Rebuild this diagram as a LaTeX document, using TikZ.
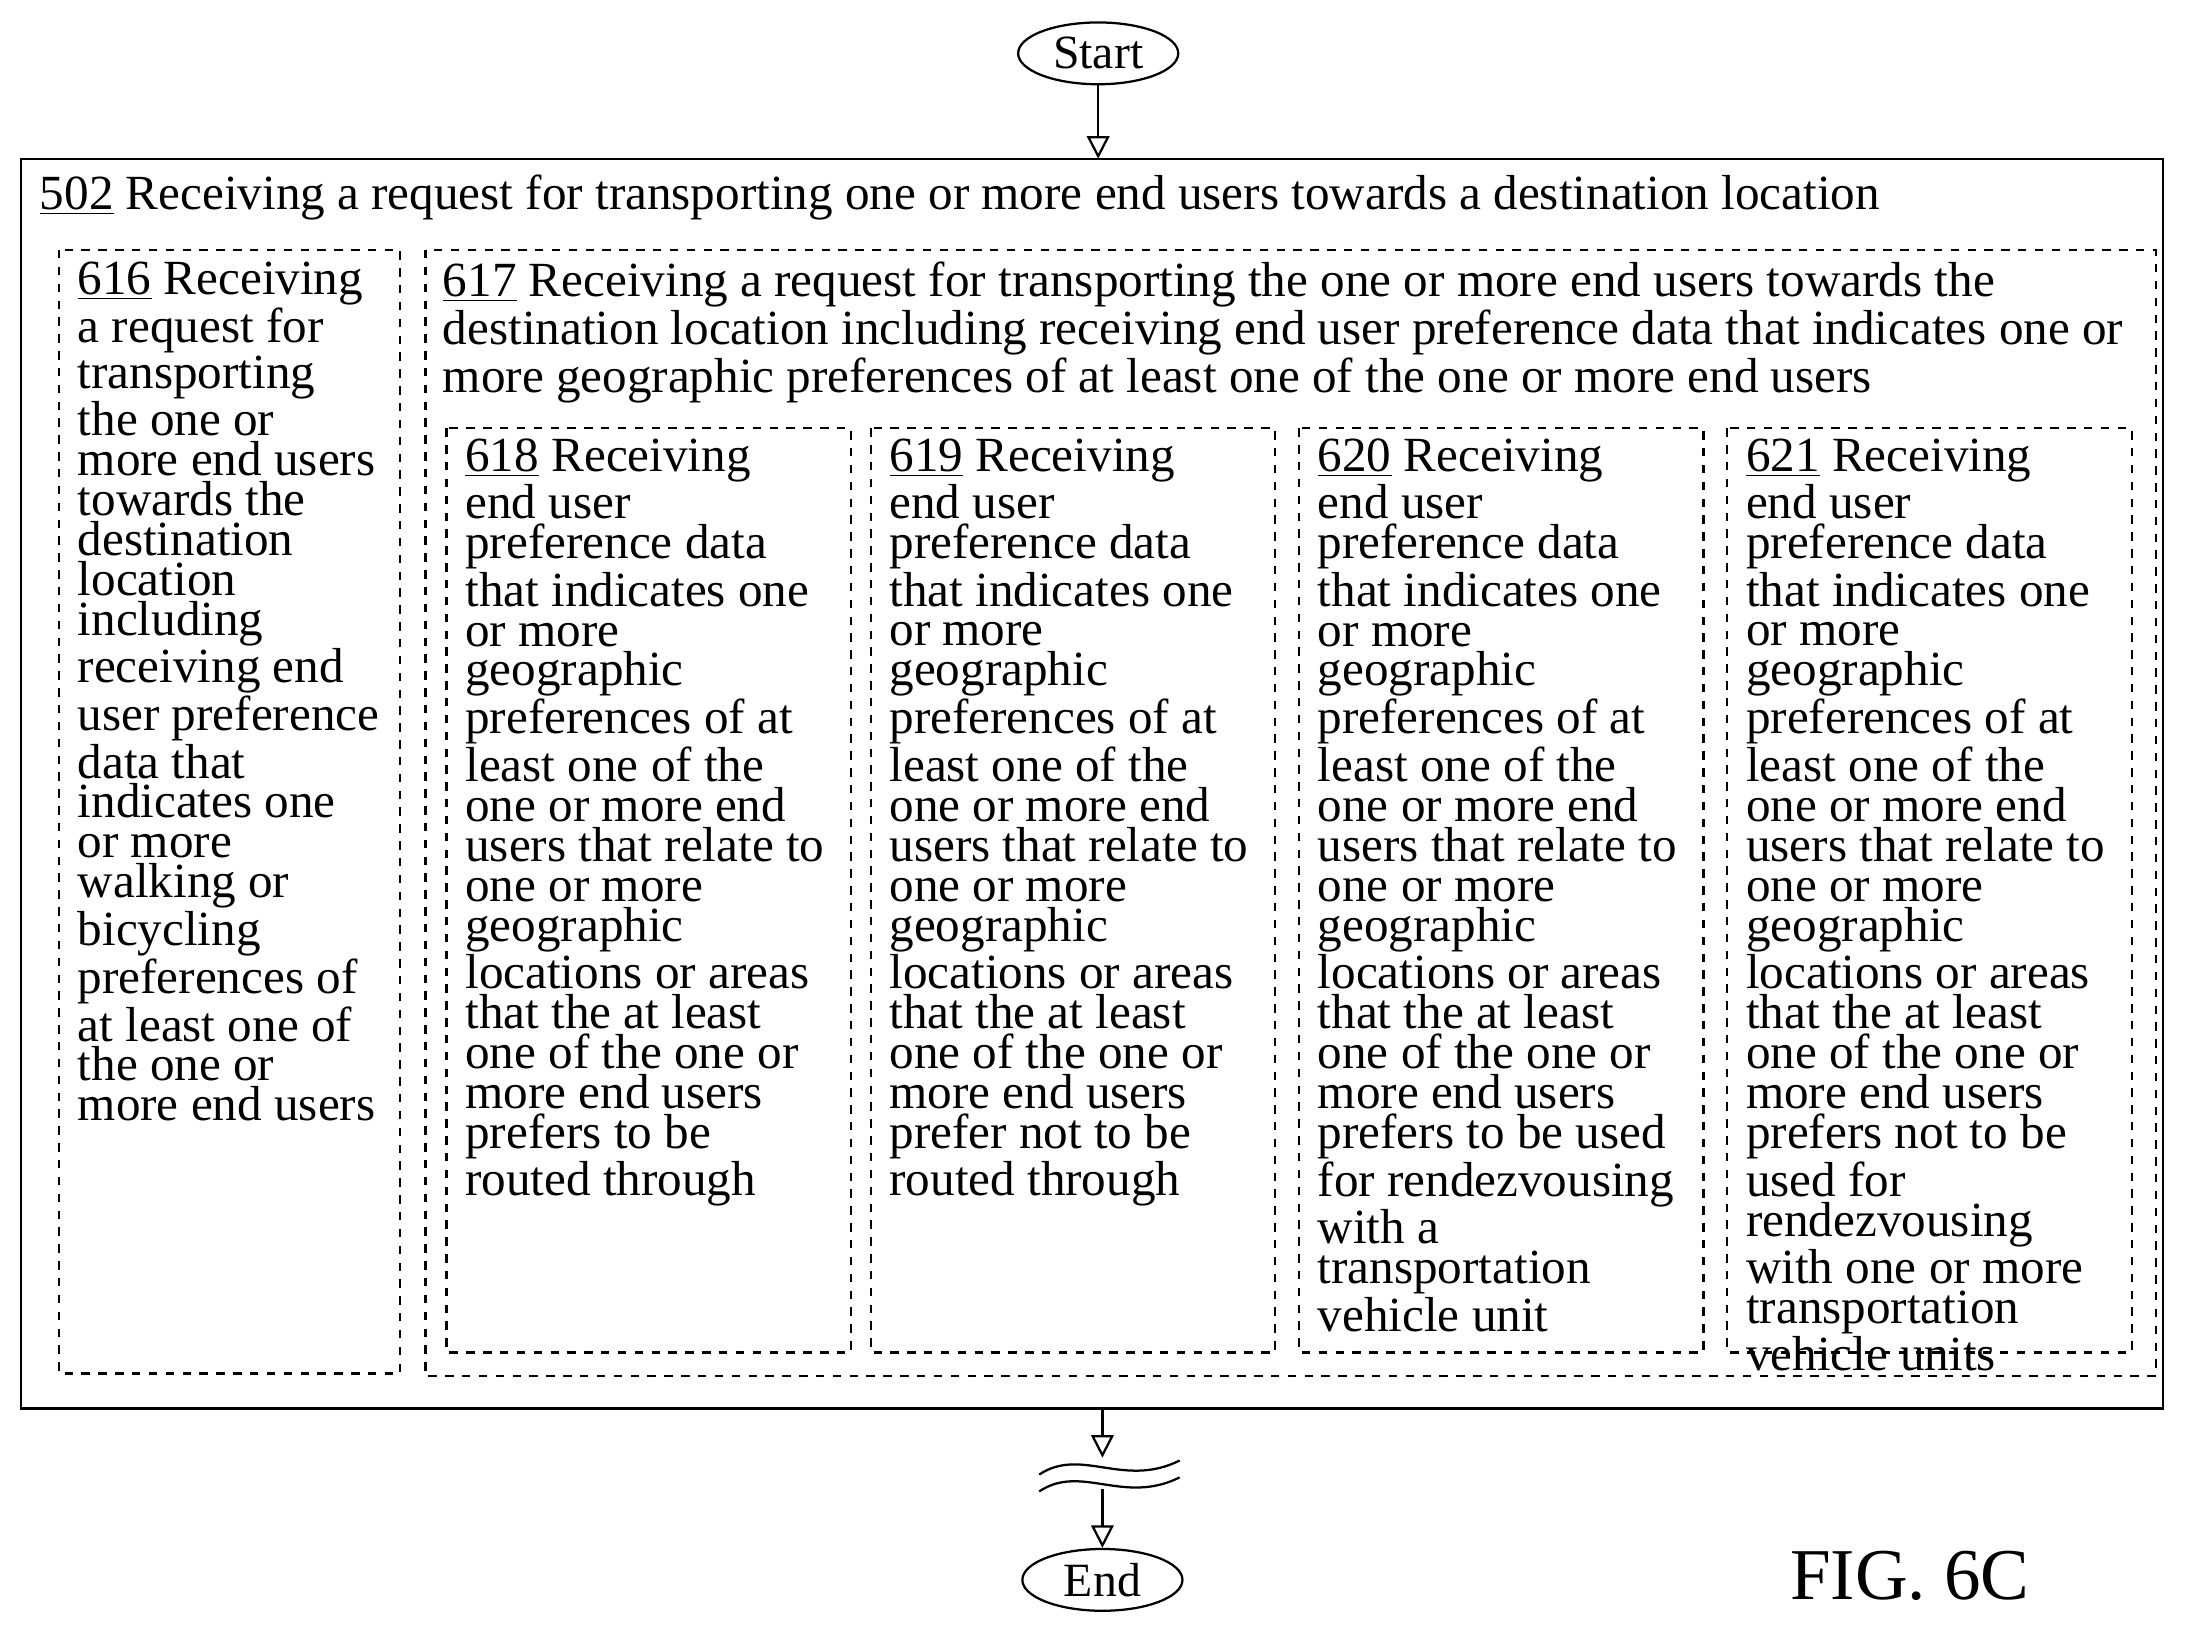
\documentclass[tikz,border=0pt]{standalone}
\usepackage{fontspec}
\setmainfont{Liberation Serif}
\usetikzlibrary{positioning,arrows.meta,shapes.geometric}
\tikzset{
  term/.style={draw,ellipse,thick,inner sep=1pt,minimum width=57pt,minimum height=22pt,font=\fontsize{17}{17}\selectfont},
  stepbox/.style={draw,dashed,thick},
  steptext/.style={anchor=north west,align=left,inner sep=0pt,font=\fontsize{17.5}{14.2}\selectfont},
  flow/.style={-{Triangle[open,length=8pt,width=8pt]},thick}
}
\begin{document}
\begin{tikzpicture}[x=0.5pt,y=-0.5pt]
  \useasboundingbox (0,0) rectangle (1568,1170);
  \node[term] (start) at (782,38) {Start};
  \node[term] (end) at (785,1125) {End};
  \node[font=\fontsize{26}{26}\selectfont] (fig) at (1360,1122) {FIG. 6C};
  % outer step
  \draw[thick] (15,113) rectangle (1540,1003);
  \coordinate (outtop) at (782,113);
  \coordinate (outbot) at (785,1003);
  \node[steptext] (t502) at (28,124) {\underline{502} Receiving a request for transporting one or more end users towards a destination location};
  % sub steps
  \draw[stepbox] (42,178) rectangle (285,978);
  \node[steptext] (t616) at (55,186) {\underline{616} Receiving\\a request for\\transporting\\the one or\\more end users\\towards the\\destination\\location\\including\\receiving end\\user preference\\data that\\indicates one\\or more\\walking or\\bicycling\\preferences of\\at least one of\\the one or\\more end users};
  \draw[stepbox] (303,178) rectangle (1535,980);
  \node[steptext] (t617) at (315,186) {\underline{617} Receiving a request for transporting the one or more end users towards the\\destination location including receiving end user preference data that indicates one or\\more geographic preferences of at least one of the one or more end users};
  \foreach \x/\n in {318/618,620/619,925/620,1230/621}
    \draw[stepbox] (\x,305) rectangle ++(288,658);
  \node[steptext] (t618) at (331,312) {\underline{618} Receiving\\end user\\preference data\\that indicates one\\or more\\geographic\\preferences of at\\least one of the\\one or more end\\users that relate to\\one or more\\geographic\\locations or areas\\that the at least\\one of the one or\\more end users\\prefers to be\\routed through};
  \node[steptext] (t619) at (633,312) {\underline{619} Receiving\\end user\\preference data\\that indicates one\\or more\\geographic\\preferences of at\\least one of the\\one or more end\\users that relate to\\one or more\\geographic\\locations or areas\\that the at least\\one of the one or\\more end users\\prefer not to be\\routed through};
  \node[steptext] (t620) at (938,312) {\underline{620} Receiving\\end user\\preference data\\that indicates one\\or more\\geographic\\preferences of at\\least one of the\\one or more end\\users that relate to\\one or more\\geographic\\locations or areas\\that the at least\\one of the one or\\more end users\\prefers to be used\\for rendezvousing\\with a\\transportation\\vehicle unit};
  \node[steptext] (t621) at (1243,312) {\underline{621} Receiving\\end user\\preference data\\that indicates one\\or more\\geographic\\preferences of at\\least one of the\\one or more end\\users that relate to\\one or more\\geographic\\locations or areas\\that the at least\\one of the one or\\more end users\\prefers not to be\\used for\\rendezvousing\\with one or more\\transportation\\vehicle units};
  % connectors and break
  \coordinate (brk1) at (785,1038);
  \coordinate (brk2) at (785,1060);
  \draw[flow] (start) -- (outtop);
  \draw[flow] (outbot) -- (brk1);
  \draw[thick] (740,1050) .. controls (770,1030) and (800,1060) .. (840,1040);
  \draw[thick] (740,1062) .. controls (770,1042) and (800,1072) .. (840,1052);
  \draw[flow] (brk2) -- (end);
\end{tikzpicture}
\end{document}
